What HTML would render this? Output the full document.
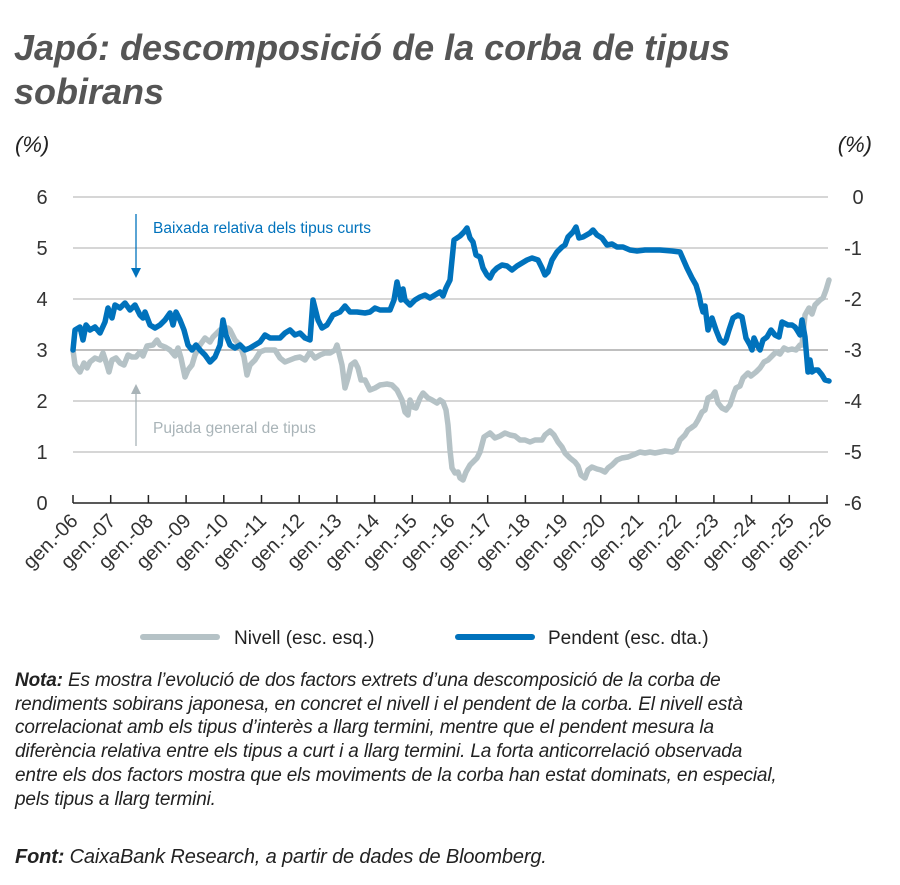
<!DOCTYPE html>
<html><head><meta charset="utf-8"><style>
body{margin:0;background:#fff;width:900px;height:885px;overflow:hidden;font-family:"Liberation Sans","DejaVu Sans",sans-serif}
.t{position:absolute;left:14px;top:26px;font-size:36px;font-weight:bold;font-style:italic;color:#555;line-height:44px;letter-spacing:0px;white-space:nowrap}
.n{position:absolute;left:15px;top:669px;font-size:19px;font-style:italic;color:#222;line-height:23.7px;letter-spacing:-0.15px;white-space:nowrap}
</style></head><body>
<div class="t">Japó: descomposició de la corba de tipus<br>sobirans</div>
<svg width="900" height="885" style="position:absolute;left:0;top:0" font-family="Liberation Sans, DejaVu Sans, sans-serif">
<text x="15" y="152" font-size="22" font-style="italic" fill="#222">(%)</text>
<text x="872" y="152" font-size="22" font-style="italic" fill="#222" text-anchor="end">(%)</text>
<g stroke="#c8c8c8" stroke-width="1.5">
<line x1="73" x2="828" y1="197" y2="197"/><line x1="73" x2="828" y1="248" y2="248"/><line x1="73" x2="828" y1="299" y2="299"/><line x1="73" x2="828" y1="350" y2="350" stroke="#aaa"/><line x1="73" x2="828" y1="401" y2="401"/><line x1="73" x2="828" y1="452" y2="452"/>
</g>
<g font-size="20" fill="#333" text-anchor="middle">
<text x="42" y="204">6</text><text x="42" y="255">5</text><text x="42" y="306">4</text><text x="42" y="357">3</text><text x="42" y="408">2</text><text x="42" y="459">1</text><text x="42" y="510">0</text>
<text x="858" y="204">0</text><text x="853" y="255">-1</text><text x="853" y="306">-2</text><text x="853" y="357">-3</text><text x="853" y="408">-4</text><text x="853" y="459">-5</text><text x="853" y="510">-6</text>
</g>
<line x1="73" x2="828" y1="503" y2="503" stroke="#222" stroke-width="1.5"/>
<g stroke="#222" stroke-width="1.5" id="ticks"></g>
<g font-size="20" fill="#333" text-anchor="end" id="labs"></g>
<text x="153" y="233" font-size="15.5" fill="#0072bc">Baixada relativa dels tipus curts</text>
<line x1="136" y1="214" x2="136" y2="270" stroke="#0072bc" stroke-width="1.3"/>
<polygon points="131,268 141,268 136,278" fill="#0072bc"/>
<text x="153" y="433" font-size="15.5" fill="#a9b4b8">Pujada general de tipus</text>
<line x1="136" y1="446" x2="136" y2="392" stroke="#a9b4b8" stroke-width="1.3"/>
<polygon points="131,394 141,394 136,384" fill="#a9b4b8"/>
<polyline fill="none" stroke="#b5c2c6" stroke-width="5.5" stroke-linejoin="round" stroke-linecap="round" points="73,350 75,365 80,372 84,363 87,368 90,362 95,358 100,360 103,353 107,365 109,372 112,360 116,358 120,363 124,365 128,355 132,357 136,357 140,352 143,356 147,346 153,345 157,340 160,345 165,347 170,350 175,356 178,348 181,358 185,377 188,370 192,365 195,355 200,345 205,338 210,342 213,337 220,330 225,329 228,328 230,330 235,340 240,345 244,357 247,375 250,365 255,360 260,352 265,350 270,350 275,350 280,358 285,362 290,360 295,358 300,357 305,360 310,352 315,358 320,355 325,353 330,353 335,350 337,345 342,365 345,388 348,378 351,365 355,362 358,368 361,380 365,380 370,390 375,388 380,385 387,384 392,385 397,390 402,400 405,412 408,415 410,400 413,407 416,408 420,398 423,393 428,398 432,400 437,403 440,400 443,402 446,410 448,425 450,450 452,468 455,473 458,472 460,478 463,480 466,472 470,465 473,462 477,458 480,452 484,437 487,435 490,433 495,438 500,436 505,433 510,435 515,436 520,440 525,440 530,442 535,440 542,440 545,435 550,431 554,435 558,442 562,447 565,453 570,458 575,462 578,466 581,475 585,478 588,470 592,467 597,469 601,470 605,472 608,468 612,465 617,460 622,458 628,457 633,455 640,452 645,453 650,452 655,453 660,452 665,451 672,452 676,450 680,440 685,435 688,430 691,428 695,425 698,420 702,412 705,410 708,398 712,396 715,392 718,403 722,408 726,410 730,405 734,393 736,388 740,386 743,378 748,373 751,376 756,372 760,368 764,362 768,360 772,356 776,352 780,354 784,348 788,350 792,349 796,350 800,345 802,345 805,315 809,308 812,314 815,305 820,300 823,298 826,290 829,280"/>
<polyline fill="none" stroke="#0072bc" stroke-width="5.5" stroke-linejoin="round" stroke-linecap="round" points="73,350 75,330 80,327 83,340 86,325 90,330 95,327 100,333 105,322 108,308 112,318 115,305 120,308 125,303 130,310 135,305 140,315 143,318 145,312 150,325 155,328 160,325 165,320 170,313 173,325 176,312 180,320 184,330 188,345 192,350 196,345 200,350 205,355 210,362 215,357 220,345 223,320 226,335 230,345 235,348 240,345 245,350 250,348 255,345 260,342 265,335 270,338 275,338 280,338 285,333 290,330 295,335 300,333 305,338 310,340 313,300 318,320 322,328 327,325 333,315 340,312 345,306 350,312 357,312 365,313 370,312 375,308 380,310 385,310 390,310 394,300 397,282 401,300 403,289 405,300 410,305 415,300 420,297 425,295 430,298 435,295 440,292 443,296 446,288 450,280 454,240 460,236 464,232 467,228 470,238 473,242 476,255 480,257 483,268 487,275 490,278 493,272 497,268 502,265 507,266 512,270 517,266 522,263 527,260 532,258 538,260 542,268 545,275 548,272 552,260 557,252 562,247 565,245 568,237 573,232 576,227 579,238 583,237 590,233 593,230 597,235 602,238 607,245 612,244 617,247 623,247 630,250 637,251 645,250 652,250 660,250 672,251 680,252 687,268 692,278 696,285 699,295 701,305 703,312 705,306 708,330 712,318 716,330 720,340 724,343 726,340 729,330 733,318 738,315 742,317 746,338 750,345 752,350 754,338 757,345 760,350 763,340 767,337 771,330 775,335 779,337 782,322 788,325 792,325 795,327 797,330 800,335 802,320 805,337 808,372 810,360 812,372 815,370 818,370 822,375 825,380 829,381"/>
<line x1="143" x2="217" y1="637" y2="637" stroke="#b5c2c6" stroke-width="6" stroke-linecap="round"/>
<text x="234" y="644" font-size="19" fill="#222">Nivell (esc. esq.)</text>
<line x1="458" x2="532" y1="637" y2="637" stroke="#0072bc" stroke-width="6" stroke-linecap="round"/>
<text x="548" y="644" font-size="19" fill="#222">Pendent (esc. dta.)</text>
</svg>
<div class="n"><b>Nota:</b> Es mostra l’evolució de dos factors extrets d’una descomposició de la corba de<br>rendiments sobirans japonesa, en concret el nivell i el pendent de la corba. El nivell està<br>correlacionat amb els tipus d’interès a llarg termini, mentre que el pendent mesura la<br>diferència relativa entre els tipus a curt i a llarg termini. La forta anticorrelació observada<br>entre els dos factors mostra que els moviments de la corba han estat dominats, en especial,<br>pels tipus a llarg termini.</div>
<div class="n" style="top:846px;font-size:20px"><b>Font:</b> CaixaBank Research, a partir de dades de Bloomberg.</div>
<script>
var t=document.getElementById('ticks'),l=document.getElementById('labs'),ns='http://www.w3.org/2000/svg';
for(var i=0;i<=20;i++){var x=73+i*37.7;
var ln=document.createElementNS(ns,'line');ln.setAttribute('x1',x);ln.setAttribute('x2',x);ln.setAttribute('y1',495);ln.setAttribute('y2',503);t.appendChild(ln);
var tx=document.createElementNS(ns,'text');var yy=('0'+(6+i)).slice(-2);tx.textContent='gen.-'+yy;
tx.setAttribute('transform','translate('+(x+6)+',522) rotate(-45)');l.appendChild(tx);}
</script>
</body></html>
